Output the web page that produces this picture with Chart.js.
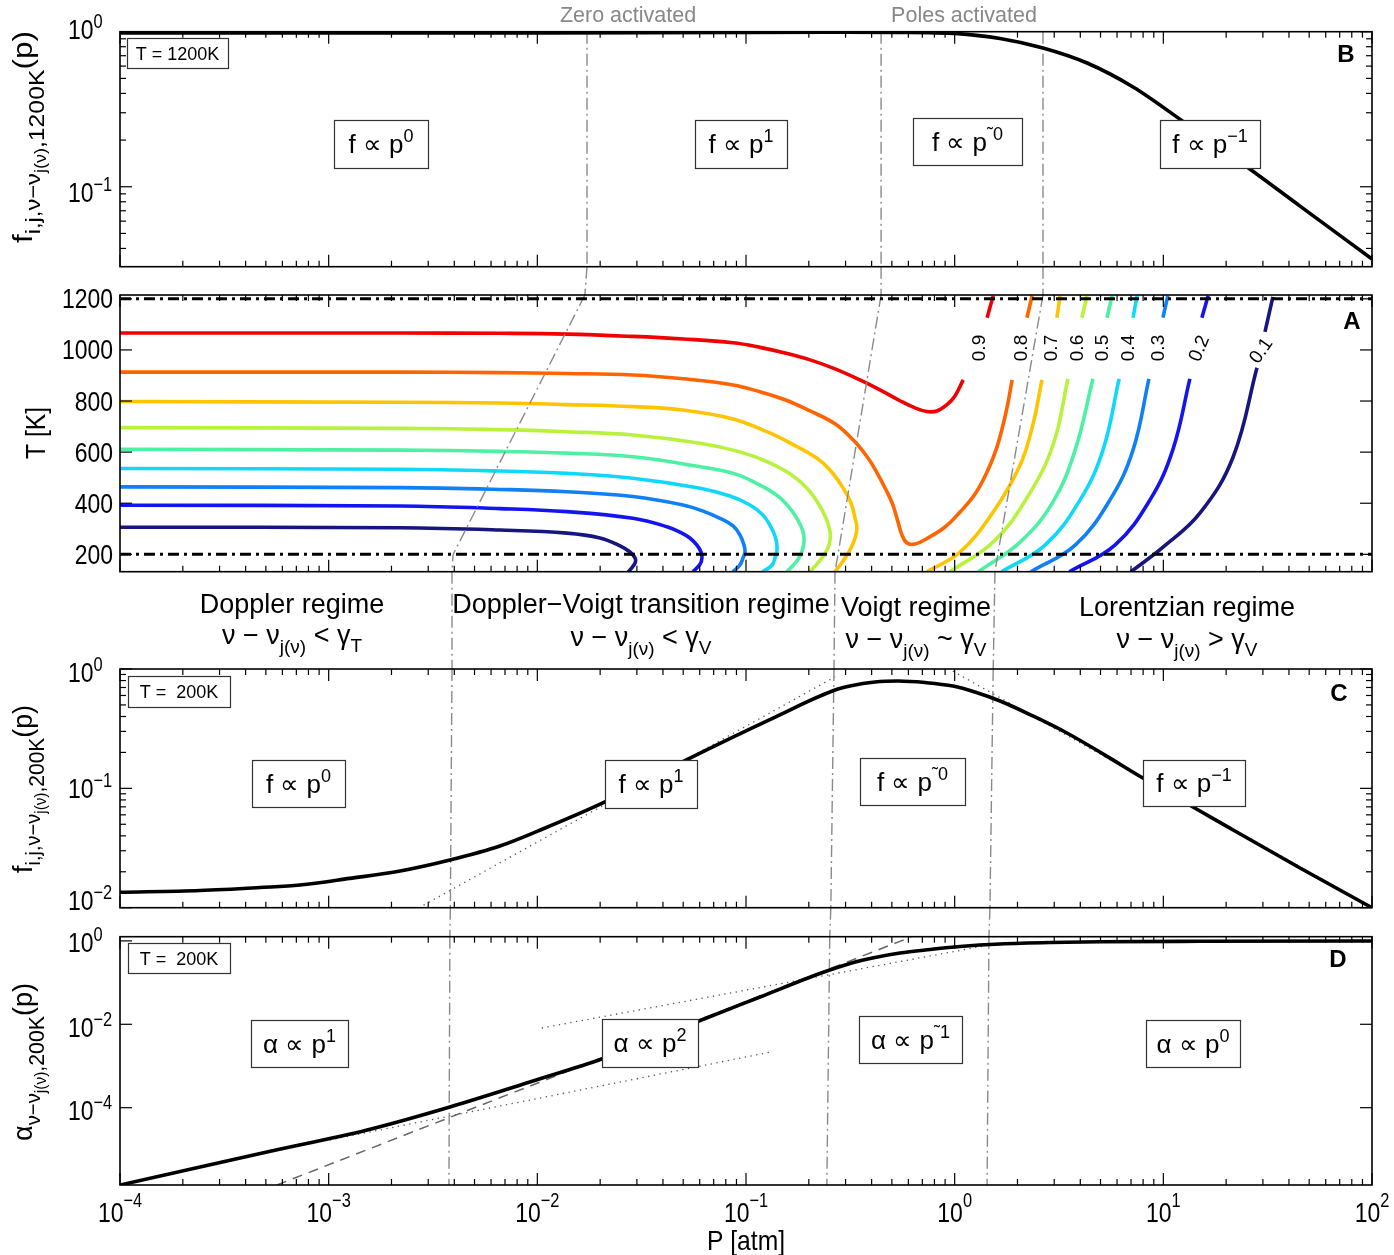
<!DOCTYPE html>
<html>
<head>
<meta charset="utf-8">
<title>Line wing regimes</title>
<script src="https://cdn.jsdelivr.net/npm/chart.js@4.4.1/dist/chart.umd.min.js"></script>
<style>
  body { margin: 0; background: #fff; }
  #fig { display: block; }
</style>
</head>
<body>
<canvas id="fig" width="1394" height="1255"></canvas>
<script>
// ---- values ----

// B: profile at T = 1200 K
const pB = [1e-4, 1e-3, 1e-2, 0.1, 0.3, 0.55, 0.76, 1.0, 1.65, 2.65, 4.31, 7.16, 12.0, 25.2, 45.2, 100];
const fB = [0.98, 0.98, 0.982, 0.99, 0.992, 0.988, 0.984, 0.975, 0.904, 0.785, 0.628, 0.440, 0.273, 0.134, 0.075, 0.0342];

// C: profile at T = 200 K, plus the two dotted power laws
const pC = [1e-4, 2.42e-4, 4.69e-4, 7.29e-4, 1.26e-3, 2.2e-3, 3.81e-3, 6.62e-3, 1.01e-2, 0.0211, 0.0527, 0.138, 0.267, 0.315, 0.415, 0.535, 0.721, 0.982, 1.25, 1.65, 2.37, 3.45, 5.25, 7.98, 21.6, 45.2, 100];
const fC = [0.01346, 0.01393, 0.01476, 0.01549, 0.0176, 0.0203, 0.0251, 0.0329, 0.0440, 0.0769, 0.176, 0.396, 0.667, 0.720, 0.778, 0.793, 0.770, 0.720, 0.642, 0.539, 0.404, 0.291, 0.190, 0.122, 0.0448, 0.0215, 0.0100];
const dotC1P = [2.85e-3, 0.267], dotC1F = [0.0105, 0.86];
const dotC2P = [0.98, 100], dotC2F = [0.96, 0.0101];

// D: alpha at T = 200 K, dashed p^2 and dotted p^1 guides
const pD = [1e-4, 2.42e-4, 5.06e-4, 1.53e-3, 3.81e-3, 9.53e-3, 0.0207, 0.0347, 0.0603, 0.1167, 0.226, 0.315, 0.415, 0.547, 0.762, 1.062, 1.65, 2.86, 4.97, 15.0, 100];
const aD = [1.40e-6, 3.78e-6, 8.66e-6, 2.92e-5, 1.04e-4, 4.37e-4, 1.51e-3, 4.09e-3, 0.01233, 0.0451, 0.165, 0.287, 0.400, 0.513, 0.622, 0.734, 0.843, 0.916, 0.951, 0.978, 0.994];
const dashDP = [5.65e-4, 0.618], dashDA = [1.4e-6, 1.24];
const dotD1P = [1.01e-3, 0.132], dotD1A = [1.68e-5, 2.17e-3];
const dotD2P = [0.0105, 1.65], dotD2A = [8.15e-3, 0.89];

// A: contour levels of f(T,p); each level is a list of drawn pieces of [P, T] pairs
const levels = ['0.9', '0.8', '0.7', '0.6', '0.5', '0.4', '0.3', '0.2', '0.1'];
const levelColors = ['#f00000', '#ff6400', '#ffc400', '#b8f23c', '#4ef0a4', '#10d8fa', '#1080f5', '#1414f0', '#16167e'];
const contour09 = [
  [[1e-4,1066],[2.2e-3,1066],[6.62e-3,1065],[0.01387,1062],[0.0287,1053],[0.0499,1043],[0.0867,1028],[0.1167,1010],[0.1538,988],[0.2028,961],[0.267,926],[0.3515,883],[0.4385,844],[0.547,801],[0.646,773],[0.736,759],[0.822,761],[0.916,785],[1.004,820],[1.099,883]],
  [[1.43,1126],[1.53,1212]]
];
const contour08 = [
  [[1e-4,913],[2.2e-3,913],[6.62e-3,911],[0.01387,908],[0.0287,902],[0.0499,887],[0.0867,863],[0.1167,836],[0.1538,805],[0.2028,761],[0.267,711],[0.326,648],[0.3842,577],[0.4226,522],[0.469,452],[0.506,393],[0.535,327],[0.559,276],[0.591,244],[0.646,240],[0.736,262],[0.899,307],[1.062,366],[1.252,436],[1.429,522],[1.578,609],[1.706,707],[1.801,793],[1.884,883]],
  [[2.22,1126],[2.35,1212]]
];
const contour07 = [
  [[1e-4,798],[2.2e-3,795],[6.62e-3,792],[0.01387,786],[0.0287,778],[0.0499,765],[0.0867,730],[0.126,680],[0.1625,636],[0.219,576],[0.2526,530],[0.292,460],[0.3186,401],[0.333,342],[0.340,303],[0.333,264],[0.315,217],[0.292,174],[0.267,132]],
  [[0.736,132],[1.062,209],[1.53,366],[2.06,550],[2.37,707],[2.62,883]],
  [[3.09,1126],[3.20,1212]]
];
const contour06 = [
  [[1e-4,696],[2.2e-3,693],[6.62e-3,688],[0.01387,680],[0.0287,667],[0.0603,635],[0.0935,601],[0.126,563],[0.1625,515],[0.196,459],[0.2213,401],[0.2416,342],[0.252,295],[0.2535,264],[0.247,225],[0.2313,186],[0.2028,132]],
  [[0.95,132],[1.53,248],[2.22,421],[2.96,628],[3.49,887]],
  [[4.07,1126],[4.31,1212]]
];
const contour05 = [
  [[1e-4,611],[2.2e-3,608],[6.62e-3,603],[0.01387,596],[0.0287,582],[0.0603,543],[0.0885,515],[0.1167,471],[0.1423,428],[0.1625,380],[0.1774,334],[0.1875,289],[0.1896,248],[0.185,210],[0.1754,174],[0.157,132]],
  [[1.30,132],[2.06,248],[2.96,405],[3.78,609],[4.60,887]],
  [[5.37,1126],[5.68,1212]]
];
const contour04 = [
  [[1e-4,536],[2.2e-3,533],[6.62e-3,526],[0.01387,517],[0.0287,498],[0.0603,459],[0.0838,428],[0.1045,393],[0.1205,354],[0.130,315],[0.1377,272],[0.141,224],[0.1377,186],[0.1334,158],[0.1205,132]],
  [[1.68,132],[2.71,236],[3.99,413],[5.14,609],[6.14,887]],
  [[7.16,1126],[7.48,1212]]
];
const contour03 = [
  [[1e-4,464],[2.2e-3,461],[6.62e-3,454],[0.01387,445],[0.0287,426],[0.0499,393],[0.0636,366],[0.075,341],[0.0867,311],[0.0935,276],[0.0978,236],[0.0989,210],[0.0968,186],[0.0935,158],[0.0867,132]],
  [[2.32,132],[3.78,236],[5.55,413],[7.16,609],[8.53,887]],
  [[9.96,1126],[10.5,1212]]
];
const contour02 = [
  [[1e-4,392],[2.2e-3,389],[6.62e-3,379],[0.01387,367],[0.0287,341],[0.0418,308],[0.0493,283],[0.054,263],[0.0582,236],[0.0608,210],[0.0615,186],[0.0603,162],[0.0557,132]],
  [[3.55,132],[5.86,236],[8.63,413],[11.1,609],[13.4,887]],
  [[15.3,1126],[16.4,1212]]
];
const contour01 = [
  [[1e-4,306],[2.2e-3,304],[6.62e-3,295],[0.01387,283],[0.01995,264],[0.0249,233],[0.0278,209],[0.0294,186],[0.0294,166],[0.0278,139],[0.0272,132]],
  [[7.0,132],[10.0,229],[15.0,362],[21.6,581],[28.1,930]],
  [[30.7,1071],[33.5,1208]]
];
const contours = [contour09, contour08, contour07, contour06, contour05, contour04, contour03, contour02, contour01];
const tLimits = [1200, 200];

// dash-dot dividers: P where each crosses the panel edges, top to bottom
// [B top, B bottom, A top, A at 200 K, A bottom, C top, C bottom, D top, D bottom]
const zeroP  = [0.0173, 0.0173, 0.0169, 0.00395, 0.0039, 0.0039, 0.00383, 0.00381, 0.00377];
const polesP = [0.444, 0.444, 0.444, 0.276, 0.267, 0.264, 0.255, 0.252, 0.244];
const lorP   = [2.65, 2.65, 2.65, 1.61, 1.56, 1.53, 1.476, 1.46, 1.43];

// axis ranges
const rB = [0.0305, 1], rA = [132, 1215], rC = [0.01, 1], rD = [1.4e-6, 1.26];

// ---- datasets ----
const FONT = '"Liberation Sans", Arial, Helvetica, sans-serif';
const line = (P, Y, axis, style) => Object.assign({
  data: P.map((p, i) => ({ x: p, y: Y[i] })),
  yAxisID: axis, pointRadius: 0, borderWidth: 1, tension: 0, fill: false
}, style);
const pairs = (pts, axis, style) => line(pts.map(q => q[0]), pts.map(q => q[1]), axis, style);

const curve = { borderColor: '#000', borderWidth: 3.6, cubicInterpolationMode: 'monotone', order: 0 };
const dotted = { borderColor: '#555', borderWidth: 1.3, borderDash: [1.3, 4.5], order: 3 };
const divider = { borderColor: '#8a8a8a', borderWidth: 1.4, borderDash: [12, 4, 2, 4], order: 1 };

const datasets = [];
datasets.push(line(pB, fB, 'yB', curve));
datasets.push(line(pC, fC, 'yC', curve));
datasets.push(line(pD, aD, 'yD', curve));
datasets.push(line(dotC1P, dotC1F, 'yC', dotted));
datasets.push(line(dotC2P, dotC2F, 'yC', dotted));
datasets.push(line(dotD1P, dotD1A, 'yD', dotted));
datasets.push(line(dotD2P, dotD2A, 'yD', dotted));
datasets.push(line(dashDP, dashDA, 'yD', { borderColor: '#666', borderWidth: 1.5, borderDash: [10, 7], order: 3 }));

contours.forEach((pieces, k) => {
  pieces.forEach(pc => datasets.push(pairs(pc, 'yA', { borderColor: levelColors[k], borderWidth: 3.6, tension: 0.4, order: 2 })));
});
tLimits.forEach(t => datasets.push(line([1e-4, 100], [t, t], 'yA', { borderColor: '#000', borderWidth: 3, borderDash: [11, 5, 3, 5], order: 1 })));

[zeroP, polesP, lorP].forEach(P => {
  datasets.push(line([P[0], P[1]], [rB[1], rB[0]], 'yB', divider));
  datasets.push(line([P[1], P[2]], [1, 0], 'gBA', divider));
  datasets.push(line([P[2], P[3], P[4]], [rA[1], 200, rA[0]], 'yA', divider));
  datasets.push(line([P[4], P[5]], [1, 0], 'gAC', divider));
  datasets.push(line([P[5], P[6]], [rC[1], rC[0]], 'yC', divider));
  datasets.push(line([P[6], P[7]], [1, 0], 'gCD', divider));
  datasets.push(line([P[7], P[8]], [rD[1], rD[0]], 'yD', divider));
});

// ---- text helpers ----
function txt(ctx, parts, x, y, align, opt) {
  opt = opt || {};
  const w8 = opt.bold ? 'bold ' : '';
  let w = 0;
  for (const p of parts) { ctx.font = w8 + p[1] + 'px ' + FONT; w += ctx.measureText(p[0]).width; }
  const sx = opt.fit ? opt.fit / w : (opt.sx || 1);
  w *= sx;
  const x0 = align === 'center' ? x - w / 2 : align === 'right' ? x - w : x;
  ctx.save();
  ctx.translate(x0, y);
  ctx.scale(sx, 1);
  ctx.textAlign = 'left';
  ctx.textBaseline = 'alphabetic';
  ctx.fillStyle = opt.color || '#000';
  let px = 0;
  for (const p of parts) {
    ctx.font = w8 + p[1] + 'px ' + FONT;
    ctx.fillText(p[0], px, p[2] || 0);
    px += ctx.measureText(p[0]).width;
  }
  ctx.restore();
}
function rtxt(ctx, parts, x, y, deg, opt) {
  ctx.save();
  ctx.translate(x, y);
  ctx.rotate(deg * Math.PI / 180);
  txt(ctx, parts, 0, 0, 'center', opt);
  ctx.restore();
}
const sup = (base, e, size, esize, dy) => [[base, size, 0], [e, esize, dy]];
const fp = e => [['f \u221d p', 26, 0], [e, 18, -11]];
const ap = e => [['\u03b1 \u221d p', 26, 0], [e, 18, -11]];
const nuRow = (sym, g) => [['\u03bd \u2212 \u03bd', 27, 0], ['j(\u03bd)', 19, 9], [' ' + sym + ' \u03b3', 27, 0], [g, 19, 8]];

const boxes = [
  [[127, 38, 228, 68], [['T = 1200K', 18, 0]]],
  [[334, 120, 428, 168], fp('0')],
  [[695, 120, 787, 168], fp('1')],
  [[913, 118, 1022, 165], fp('\u02dc0')],
  [[1160, 120, 1260, 168], fp('\u22121')],
  [[128, 676, 230, 707], [['T =  200K', 18, 0]]],
  [[252, 760, 345, 807], fp('0')],
  [[605, 760, 697, 808], fp('1')],
  [[860, 758, 965, 805], fp('\u02dc0')],
  [[1143, 760, 1245, 806], fp('\u22121')],
  [[128, 943, 230, 973], [['T =  200K', 18, 0]]],
  [[251, 1020, 348, 1067], ap('1')],
  [[602, 1019, 698, 1067], ap('2')],
  [[859, 1016, 962, 1063], ap('\u02dc1')],
  [[1146, 1020, 1240, 1067], ap('0')]
];

const levelLabels = [
  [978, 348, -90], [1020, 348, -90], [1050, 348, -90], [1076, 348, -90], [1101, 348, -90],
  [1127, 348, -90], [1157, 348, -90], [1198, 348, -68], [1260, 350, -55]
];

// ---- frames, ticks and labels ----
const decor = {
  id: 'decor',
  afterDatasetsDraw(chart) {
    const ctx = chart.ctx;
    for (const [r, parts] of boxes) {
      ctx.save();
      ctx.fillStyle = '#fff';
      ctx.strokeStyle = '#333';
      ctx.lineWidth = 1.2;
      ctx.fillRect(r[0], r[1], r[2] - r[0], r[3] - r[1]);
      ctx.strokeRect(r[0] + 0.5, r[1] + 0.5, r[2] - r[0], r[3] - r[1]);
      ctx.restore();
      const big = parts[0][1] > 20;
      txt(ctx, parts, (r[0] + r[2]) / 2, (r[1] + r[3]) / 2 + (big ? 9 : 6.5), 'center');
    }
  },
  afterDraw(chart) {
    const ctx = chart.ctx, x = chart.scales.x, L = chart.chartArea.left, R = chart.chartArea.right;
    ctx.save();
    ctx.strokeStyle = '#000';
    const seg = (x1, y1, x2, y2) => { ctx.beginPath(); ctx.moveTo(x1, y1); ctx.lineTo(x2, y2); ctx.stroke(); };

    const yTicks = {
      yB: { major: [1, 0.1], minor: [0.04, 0.05, 0.06, 0.07, 0.08, 0.09, 0.2, 0.3, 0.4, 0.5, 0.6, 0.7, 0.8, 0.9] },
      yA: { major: [200, 400, 600, 800, 1000, 1200], minor: [] },
      yC: { major: [1, 0.1, 0.01], minor: [0.02, 0.03, 0.04, 0.05, 0.06, 0.07, 0.08, 0.09, 0.2, 0.3, 0.4, 0.5, 0.6, 0.7, 0.8, 0.9] },
      yD: { major: [1, 1e-2, 1e-4], minor: [] }
    };
    for (const id of ['yB', 'yA', 'yC', 'yD']) {
      const s = chart.scales[id], T = s.top, B = s.bottom;
      ctx.lineWidth = 1.2;
      for (let e = -4; e <= 2; e++) {
        for (let m = 1; m <= 9; m++) {
          if (e === 2 && m > 1) break;
          const px = x.getPixelForValue(m * Math.pow(10, e));
          const len = m === 1 ? 12 : 6;
          seg(px, B, px, B - len);
          seg(px, T, px, T + len);
        }
      }
      for (const v of yTicks[id].major) {
        const py = s.getPixelForValue(v);
        seg(L, py, L + 12, py); seg(R, py, R - 12, py);
      }
      for (const v of yTicks[id].minor) {
        const py = s.getPixelForValue(v);
        seg(L, py, L + 6, py); seg(R, py, R - 6, py);
      }
      ctx.lineWidth = 1.6;
      ctx.strokeRect(L, T, R - L, B - T);
    }
    ctx.restore();

    // tick labels
    const SX = 0.82;
    const ex = ['\u22124', '\u22123', '\u22122', '\u22121', '0', '1', '2'];
    ex.forEach((e, i) => {
      txt(ctx, sup('10', e, 28, 20, -15), x.getPixelForValue(Math.pow(10, i - 4)), 1222, 'center', { sx: SX });
    });
    const yl = [
      ['yB', 1, '0', 7], ['yB', 0.1, '\u22121', 15],
      ['yC', 1, '0', 13], ['yC', 0.1, '\u22121', 10], ['yC', 0.01, '\u22122', 2],
      ['yD', 1, '0', 11], ['yD', 1e-2, '\u22122', 13], ['yD', 1e-4, '\u22124', 12]
    ];
    for (const [id, v, e, off] of yl) {
      txt(ctx, sup('10', e, 28, 20, -11), 68, chart.scales[id].getPixelForValue(v) + off, 'left', { sx: SX });
    }
    for (const v of yTicks.yA.major) {
      txt(ctx, [[String(v), 28, 0]], 113, chart.scales.yA.getPixelForValue(v) + 9.5, 'right', { sx: SX });
    }

    // axis titles
    txt(ctx, [['P [atm]', 28, 0]], 746, 1250, 'center', { sx: 0.88 });
    rtxt(ctx, [['T [K]', 28, 0]], 45, 433, -90, { sx: 0.88 });
    rtxt(ctx, [['f', 28, 0], ['i,j,\u03bd\u2212\u03bd', 21, 8], ['j(\u03bd)', 16, 14], [',1200K', 22, 12], ['(p)', 28, 0]], 32, 137, -90, { fit: 212 });
    rtxt(ctx, [['f', 28, 0], ['i,j,\u03bd\u2212\u03bd', 21, 8], ['j(\u03bd)', 16, 14], [',200K', 22, 12], ['(p)', 28, 0]], 32, 789, -90, { fit: 168 });
    rtxt(ctx, [['\u03b1', 28, 0], ['\u03bd\u2212\u03bd', 21, 8], ['j(\u03bd)', 16, 14], [',200K', 22, 12], ['(p)', 28, 0]], 32, 1062, -90, { fit: 158 });

    // panel letters
    txt(ctx, [['B', 24, 0]], 1346, 62, 'center', { bold: true });
    txt(ctx, [['A', 24, 0]], 1352, 329, 'center', { bold: true });
    txt(ctx, [['C', 24, 0]], 1339, 701, 'center', { bold: true });
    txt(ctx, [['D', 24, 0]], 1338, 967, 'center', { bold: true });

    // divider captions
    txt(ctx, [['Zero activated', 21.5, 0]], 628, 22, 'center', { color: '#888' });
    txt(ctx, [['Poles activated', 21.5, 0]], 964, 22, 'center', { color: '#888' });

    // regime captions
    txt(ctx, [['Doppler regime', 27, 0]], 292, 613, 'center');
    txt(ctx, nuRow('<', 'T'), 292, 644, 'center');
    txt(ctx, [['Doppler\u2212Voigt transition regime', 27, 0]], 641, 613, 'center');
    txt(ctx, nuRow('<', 'V'), 641, 646, 'center');
    txt(ctx, [['Voigt regime', 27, 0]], 916, 616, 'center');
    txt(ctx, nuRow('~', 'V'), 916, 648, 'center');
    txt(ctx, [['Lorentzian regime', 27, 0]], 1187, 616, 'center');
    txt(ctx, nuRow('>', 'V'), 1187, 648, 'center');

    // contour level labels
    levels.forEach((lv, k) => {
      const [lx, ly, deg] = levelLabels[k];
      rtxt(ctx, [[lv, 19, 7]], lx, ly, deg);
    });
  }
};

const hidden = { display: false, position: 'left', stack: 'fig' };
new Chart(document.getElementById('fig'), {
  type: 'line',
  data: { datasets },
  options: {
    responsive: false,
    animation: false,
    events: [],
    layout: { padding: { left: 120, right: 22, top: 31.7, bottom: 70 } },
    plugins: { legend: { display: false }, tooltip: { enabled: false } },
    scales: {
      x: { type: 'logarithmic', min: 1e-4, max: 100, display: false },
      yB: Object.assign({ type: 'logarithmic', min: rB[0], max: rB[1], stackWeight: 235, weight: 70 }, hidden),
      gBA: Object.assign({ type: 'linear', min: 0, max: 1, stackWeight: 28.3, weight: 60 }, hidden),
      yA: Object.assign({ type: 'linear', min: rA[0], max: rA[1], stackWeight: 276.7, weight: 50 }, hidden),
      gAC: Object.assign({ type: 'linear', min: 0, max: 1, stackWeight: 97.3, weight: 40 }, hidden),
      yC: Object.assign({ type: 'logarithmic', min: rC[0], max: rC[1], stackWeight: 238.7, weight: 30 }, hidden),
      gCD: Object.assign({ type: 'linear', min: 0, max: 1, stackWeight: 29, weight: 20 }, hidden),
      yD: Object.assign({ type: 'logarithmic', min: rD[0], max: rD[1], stackWeight: 248.3, weight: 10 }, hidden)
    }
  },
  plugins: [decor]
});
</script>
</body>
</html>
